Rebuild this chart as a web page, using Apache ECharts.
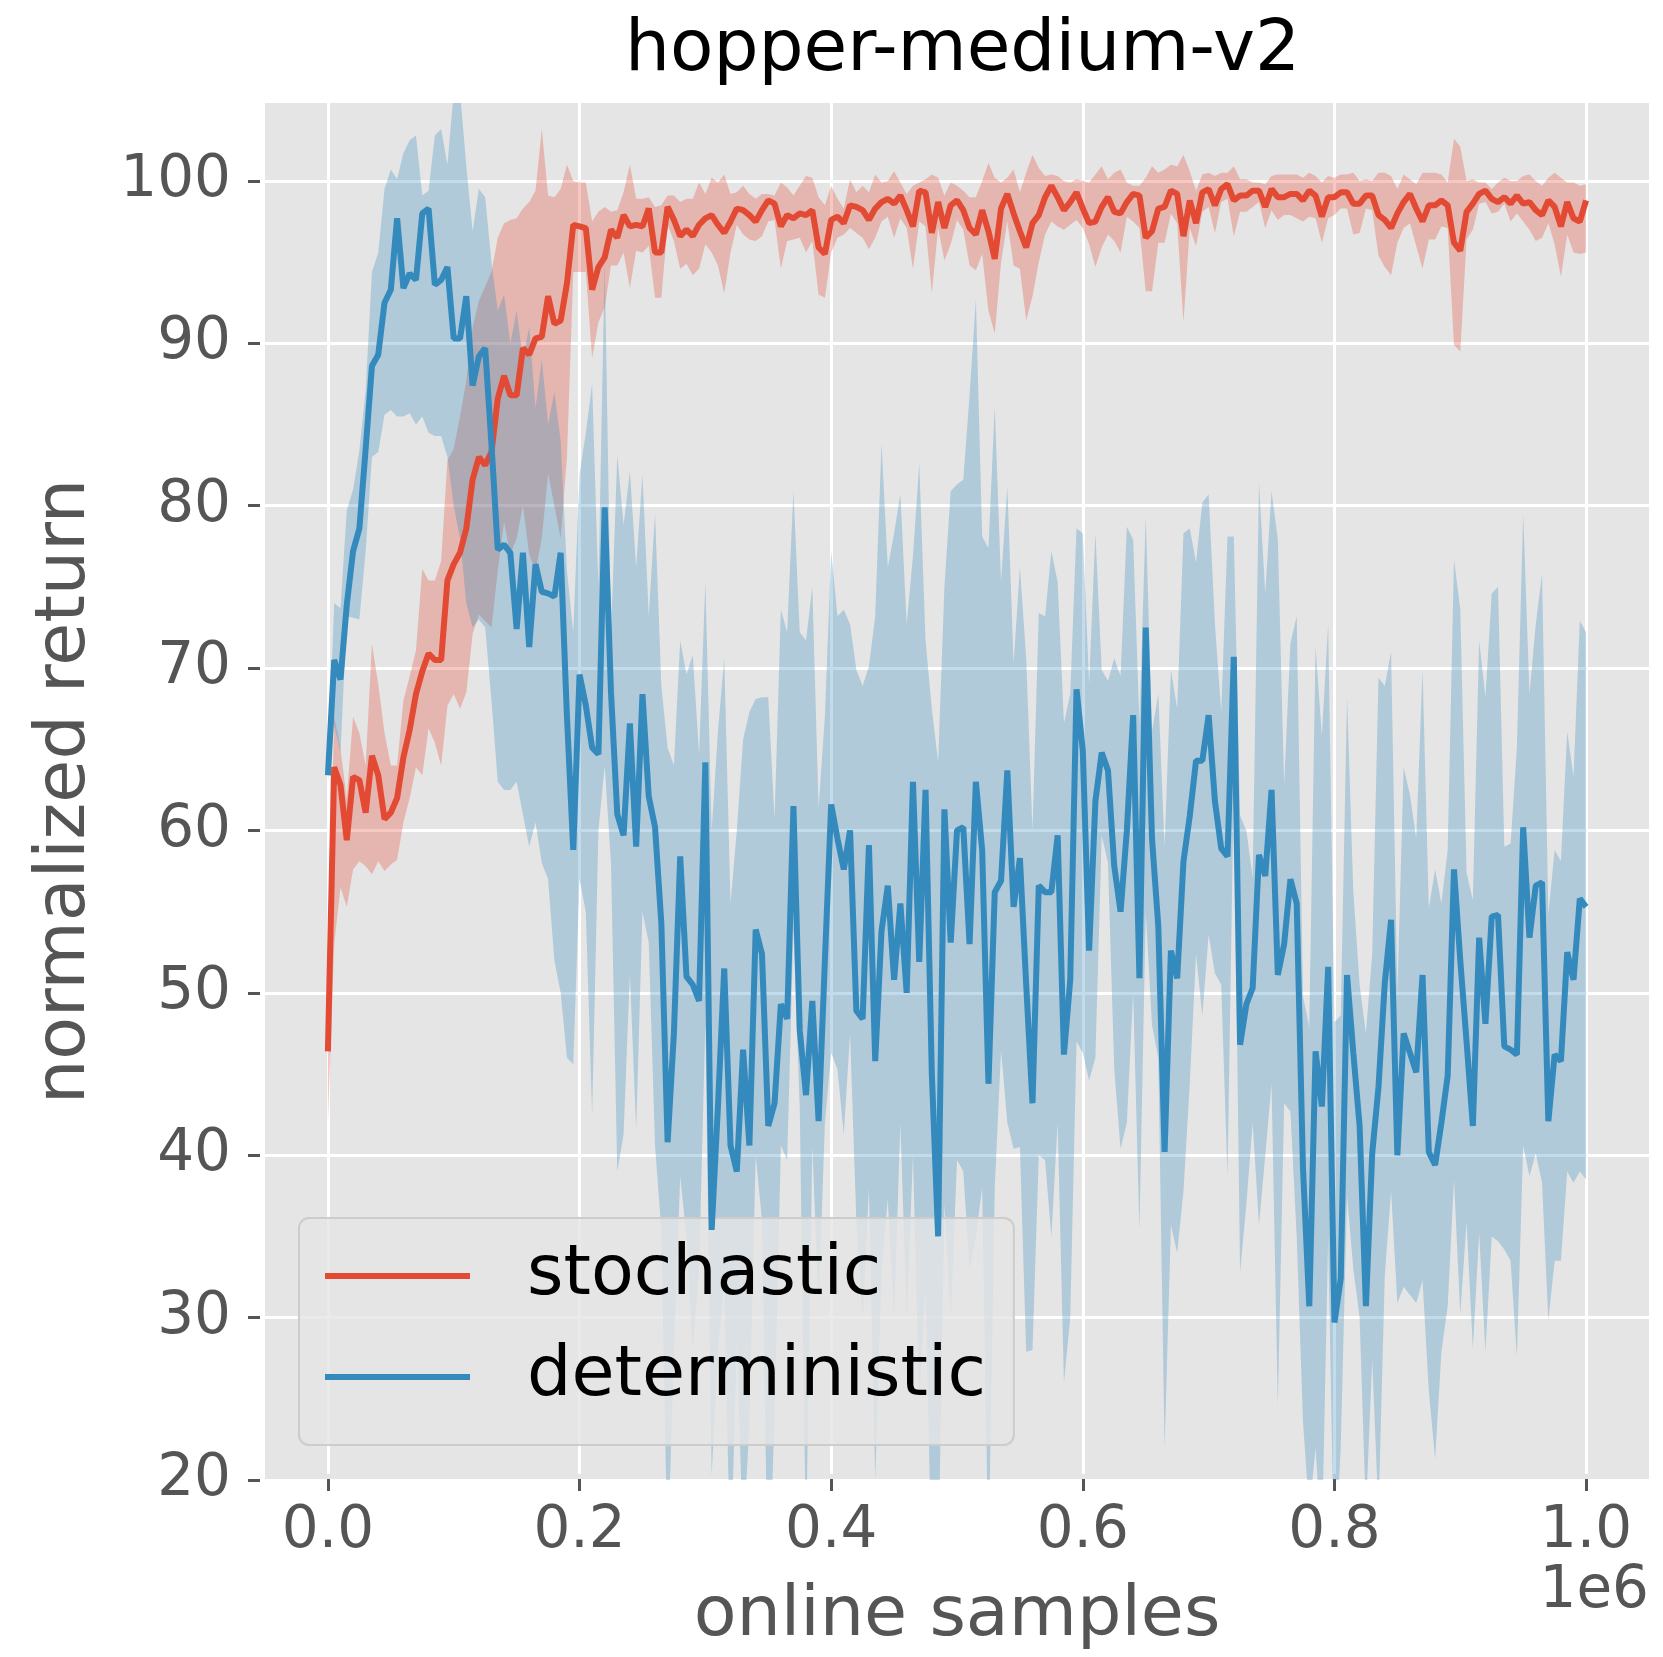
<!DOCTYPE html>
<html><head><meta charset="utf-8">
<script src="https://cdn.jsdelivr.net/npm/echarts@6/dist/echarts.min.js"></script>
<style>html,body{margin:0;padding:0;background:#fff}#chart{width:1663px;height:1657px}</style>
</head><body><div id="chart"></div>
<script>
const STEP = 5000;  // online samples between evaluation points
const seriesNames = ['stochastic', 'deterministic'];
const xTickValues = [0, 200000, 400000, 600000, 800000, 1000000];
const yTickValues = [20, 30, 40, 50, 60, 70, 80, 90, 100];

const redMean = [
46.4,63.9,62.8,59.4,63.3,63.1,61.1,64.6,63.4,60.7,
61.1,62.0,64.5,66.2,68.4,69.8,70.9,70.5,70.5,75.4,
76.4,77.1,78.6,81.6,83.0,82.5,83.3,86.6,88.0,86.8,
86.8,89.7,89.3,90.3,90.4,92.9,91.2,91.4,93.7,97.3,
97.2,97.1,93.3,94.7,95.3,97.0,96.5,97.9,97.2,97.3,
97.2,98.3,95.6,95.6,98.4,97.6,96.6,97.0,96.6,97.3,
97.7,97.9,97.3,96.8,97.5,98.3,98.2,97.9,97.5,98.2,
98.8,98.6,97.2,97.9,97.7,98.0,97.9,98.2,95.9,95.5,
97.6,97.8,97.4,98.5,98.4,98.2,97.6,98.3,98.7,98.9,
98.6,99.1,98.2,97.2,99.4,99.3,96.8,98.7,97.1,98.5,
98.8,98.2,97.1,96.7,98.2,96.9,95.2,98.3,99.2,98.0,
96.9,95.9,97.4,97.9,99.0,99.7,99.0,98.2,98.7,99.3,
98.3,97.4,97.5,98.4,99.0,98.1,98.0,98.7,99.2,99.1,
96.5,96.9,98.3,98.4,99.4,99.2,96.6,98.8,97.4,99.3,
99.5,98.5,99.5,99.8,98.8,99.1,99.1,99.4,99.4,98.4,
99.5,99.0,99.0,99.2,99.2,98.8,99.4,99.1,97.8,99.0,
99.0,99.3,99.3,98.6,98.6,99.1,99.1,97.9,97.6,97.1,
98.0,98.7,99.2,98.3,97.5,98.5,98.5,98.8,98.5,96.2,
95.7,98.1,98.6,99.2,99.4,98.9,98.7,99.0,98.6,99.1,
98.6,98.7,98.2,97.9,98.8,98.4,97.2,98.7,97.7,97.5,
98.8];
const redUpper = [
51.0,67.0,65.0,62.0,67.0,66.0,64.0,71.5,69.0,66.0,
64.0,64.0,68.0,69.5,71.1,76.1,75.4,75.4,76.6,82.8,
83.5,85.5,87.7,91.0,92.6,93.5,94.4,96.5,97.4,97.6,
97.7,98.3,98.7,99.4,103.2,99.1,99.0,99.5,101.0,100.0,
99.9,99.9,97.5,98.1,98.4,98.1,98.2,99.3,101.0,98.9,
98.9,99.0,98.4,98.5,99.1,99.1,98.7,98.9,98.9,99.9,
99.2,100.2,99.9,100.4,99.2,99.3,99.7,99.2,98.9,99.2,
99.2,99.1,99.9,99.6,99.1,99.7,100.3,100.2,99.0,98.5,
99.7,98.9,98.3,100.1,99.3,99.7,99.3,100.4,99.9,100.0,
100.6,99.9,99.2,99.7,99.9,100.1,100.4,100.2,99.1,99.9,
99.7,99.4,99.0,99.0,100.0,101.1,100.2,99.9,100.2,100.7,
99.3,100.5,101.6,100.8,100.3,100.4,100.3,100.0,99.9,100.1,
100.0,99.9,100.4,100.9,100.1,100.5,100.7,99.9,99.7,99.7,
100.2,100.9,100.5,100.7,101.0,100.9,101.6,100.6,99.4,100.4,
100.5,100.3,100.5,100.5,100.9,100.1,100.1,99.9,99.9,99.8,
100.3,100.4,100.4,100.4,100.4,100.2,100.5,100.3,99.9,100.3,
100.2,100.4,100.4,100.5,100.0,100.1,100.0,100.5,100.5,100.3,
99.5,100.4,100.1,99.8,100.5,100.5,100.5,100.4,99.9,102.6,
102.1,100.0,100.1,99.9,99.9,99.5,99.9,100.2,100.0,100.0,
100.3,100.4,100.0,99.7,100.2,100.5,100.2,99.9,99.9,99.7,
99.8];
const redLower = [
42.0,53.0,56.5,55.3,57.6,58.1,57.8,57.3,58.1,57.5,
57.9,58.2,60.5,62.0,63.9,63.4,66.3,65.4,64.0,67.7,
68.4,67.5,68.5,72.1,73.3,72.9,72.5,76.0,79.0,77.0,
78.0,80.0,77.0,76.0,78.0,82.0,80.0,78.0,83.0,94.4,
94.4,94.4,89.1,91.3,92.2,94.8,94.8,95.6,93.4,95.7,
95.6,96.0,92.8,92.8,97.3,96.3,94.6,94.9,94.2,94.6,
96.1,95.6,94.8,93.1,95.6,97.3,96.7,96.4,96.3,96.6,
97.5,97.6,94.6,96.3,96.4,96.5,95.6,96.3,93.0,92.8,
95.6,96.5,96.7,97.1,96.8,96.5,95.8,96.5,97.5,97.8,
96.5,97.7,97.1,94.6,97.5,97.2,93.1,97.1,95.1,96.1,
97.6,97.0,94.8,94.5,95.5,92.0,90.6,95.0,97.5,94.8,
94.6,91.4,92.9,95.0,96.7,97.5,97.2,97.0,97.3,97.6,
97.1,96.1,94.7,95.9,96.7,96.3,95.6,97.8,97.5,97.1,
93.2,93.2,96.2,96.2,98.0,97.4,91.3,97.1,96.0,98.1,
98.4,96.8,98.7,98.9,96.6,98.1,98.1,98.4,98.7,97.1,
98.2,97.6,97.9,97.9,97.7,97.5,97.8,97.7,96.2,97.7,
97.9,98.3,98.3,96.7,96.8,98.3,98.2,95.4,94.7,94.2,
96.2,97.1,97.4,96.0,94.6,96.4,96.4,97.2,97.1,89.9,
89.5,96.4,97.0,98.6,98.7,98.0,98.1,98.6,97.5,98.0,
97.5,97.0,96.3,96.5,97.4,96.1,94.1,96.7,95.6,95.5,
95.6];

const blueMean = [
63.4,70.5,69.3,73.9,77.2,78.6,83.5,88.6,89.3,92.5,
93.3,97.7,93.4,94.3,93.9,98.0,98.3,93.6,93.9,94.7,
90.3,90.3,92.9,87.4,89.2,89.7,83.8,77.3,77.6,77.1,
72.4,77.1,71.3,76.4,74.7,74.6,74.4,77.1,67.0,58.8,
69.6,67.7,65.1,64.7,79.9,68.5,61.0,59.7,66.6,59.0,
68.4,62.1,60.2,54.3,40.8,47.5,58.4,51.0,50.5,49.5,
64.2,35.4,43.0,51.5,40.6,39.0,46.5,40.6,53.9,52.4,
41.8,43.2,49.3,48.4,61.5,47.7,43.7,49.5,42.1,52.0,
61.6,59.5,57.6,60.0,48.9,48.4,59.1,45.8,53.8,56.6,
50.8,55.5,50.0,63.0,51.9,62.5,45.0,35.0,61.3,53.1,
60.0,60.2,53.0,63.0,58.8,44.4,56.2,56.9,63.7,55.3,
58.3,50.5,43.2,56.6,56.2,56.2,59.7,46.2,50.8,68.7,
64.9,52.6,61.8,64.8,63.7,57.8,55.0,60.0,67.1,50.9,
72.5,59.5,54.1,40.2,52.6,50.9,58.1,60.9,64.3,64.3,
67.1,61.8,58.9,58.4,70.7,46.8,49.3,50.3,58.5,57.2,
62.5,51.1,53.0,57.0,55.5,39.2,30.7,46.4,43.0,51.6,
29.7,32.4,51.1,46.3,41.8,30.7,40.1,44.2,50.6,54.5,
40.0,47.5,46.3,45.1,51.1,40.2,39.4,42.0,44.9,57.6,
52.0,47.0,41.8,53.4,48.1,54.7,54.8,46.7,46.5,46.2,
60.2,53.4,56.6,56.8,42.1,46.2,45.8,52.5,50.8,55.8,
55.3];
const blueUpper = [
64.0,74.0,73.7,79.7,81.0,83.4,87.1,94.4,95.6,99.5,
100.7,100.1,101.7,102.5,102.8,99.1,99.4,102.8,103.2,101.0,
105.5,105.5,100.9,96.9,99.5,99.0,95.0,92.0,93.0,90.0,
92.0,89.0,91.0,86.0,89.0,85.0,87.0,84.0,76.0,72.2,
81.9,84.5,87.5,75.0,95.0,72.0,83.1,78.8,82.1,76.2,
81.9,73.2,79.5,68.9,65.1,64.0,71.7,69.6,70.8,64.7,
75.3,60.0,66.1,70.6,55.5,60.0,65.6,67.3,68.1,68.2,
68.2,60.7,73.6,72.2,80.9,72.2,71.7,75.0,61.4,67.0,
77.2,73.2,73.6,72.7,69.9,68.9,70.1,73.2,83.8,76.2,
78.3,80.7,72.7,76.9,82.6,71.7,67.5,64.2,75.0,80.9,
81.3,81.6,86.8,92.7,78.1,77.4,86.1,75.3,81.2,70.3,
76.2,70.6,60.0,73.4,73.2,77.2,75.3,66.6,68.4,78.6,
78.3,69.0,78.3,69.9,69.2,70.6,69.5,78.7,77.9,66.6,
79.3,66.1,68.4,59.0,69.9,67.5,78.3,78.6,76.5,80.2,
80.7,72.7,67.3,78.1,78.1,60.9,60.0,57.1,81.4,74.6,
80.9,77.9,62.8,71.5,73.2,49.8,47.9,71.3,65.8,72.7,
48.2,48.6,68.2,56.2,50.5,47.5,52.4,69.4,68.9,71.0,
50.0,63.9,62.2,59.5,69.9,55.2,57.6,55.5,58.8,76.7,
73.6,57.4,55.7,71.7,68.2,74.6,75.0,59.0,59.2,65.1,
79.5,68.4,72.7,75.8,54.8,58.8,58.1,66.1,63.3,72.9,
72.2];
const blueLower = [
63.0,66.5,64.8,73.2,73.1,73.0,77.2,83.0,83.3,85.6,
85.9,85.5,85.5,85.7,85.0,85.5,84.5,84.3,84.3,83.0,
80.0,78.0,74.0,72.5,73.0,72.5,68.0,63.0,62.5,62.5,
63.0,61.0,59.0,60.5,58.0,57.0,52.0,50.0,46.0,45.6,
57.0,55.0,42.5,60.0,64.0,58.0,39.0,41.3,51.2,41.6,
55.0,53.1,40.6,35.4,15.0,28.0,38.7,35.0,28.0,33.0,
48.2,20.3,28.0,32.1,14.0,28.8,16.0,23.5,40.0,36.0,
12.0,24.0,40.6,39.7,53.8,43.0,16.0,40.6,30.8,42.0,
46.3,45.3,41.3,47.5,36.0,30.0,38.0,20.0,33.0,37.3,
30.0,42.0,30.0,40.0,25.0,32.0,14.0,14.0,37.0,30.0,
39.7,39.0,33.0,35.0,38.0,15.0,38.0,46.5,42.0,40.4,
40.5,27.9,28.0,40.0,39.7,35.0,42.0,26.0,30.0,47.0,
46.3,44.6,46.0,59.7,58.0,45.3,40.4,42.0,50.0,35.4,
55.0,48.0,46.0,22.0,35.7,34.0,37.8,44.4,52.4,48.6,
53.6,51.2,50.5,38.7,63.0,32.8,37.0,42.0,35.7,40.0,
44.4,24.6,43.2,42.7,35.0,23.6,18.0,22.0,16.0,35.0,
14.0,22.0,37.5,33.0,30.0,18.0,27.4,18.0,32.6,37.8,
30.9,31.9,31.4,30.9,32.3,25.5,21.3,27.9,30.7,38.5,
30.2,35.9,28.1,35.2,27.9,35.0,34.7,34.2,33.5,27.6,
40.6,38.7,40.1,38.3,29.8,33.5,33.5,39.0,38.3,39.0,
38.5];

const RED = '#E24A33', BLUE = '#348ABD';
const FONT = '"DejaVu Sans", sans-serif';

function pairs(vals) { return vals.map((v, i) => [i * STEP, v]); }

// shaded band between lower and upper curves, drawn through the axis scales
function bandSeries(id, up, lo, fill) {
  return {
    id: id, name: id, type: 'custom', xAxisIndex: 0, yAxisIndex: 0, silent: true, clip: true, z: 1,
    data: up.map((v, i) => [i * STEP, lo[i], v]),
    encode: { x: 0, y: [1, 2] },
    renderItem: function (params, api) {
      if (params.dataIndex !== 0) return null;
      const pts = [];
      for (let i = 0; i < up.length; i++) pts.push(api.coord([i * STEP, up[i]]));
      for (let i = lo.length - 1; i >= 0; i--) pts.push(api.coord([i * STEP, lo[i]]));
      return { type: 'polygon', shape: { points: pts }, style: { fill: fill, stroke: null } };
    }
  };
}

const tickStyle = { color: '#555555', width: 3, type: [0, 5, 12, 100] };

const chart = echarts.init(document.getElementById('chart'), null, { renderer: 'canvas' });
chart.setOption({
  animation: false,
  backgroundColor: '#ffffff',
  textStyle: { fontFamily: FONT },
  title: {
    text: 'hopper-medium-v2', left: 625, top: 16, padding: 0,
    textStyle: { fontSize: 71, fontWeight: 'normal', color: '#000000', fontFamily: FONT }
  },
  grid: [
    { left: 265, top: 103, width: 1384, height: 1377, show: true, backgroundColor: '#E5E5E5', borderWidth: 0, containLabel: false },
    { left: 327.91, top: 103, width: 1258.18, height: 1377, show: false, containLabel: false }
  ],
  xAxis: [
    { gridIndex: 0, type: 'value', min: -50000, max: 1050000, show: false, axisLine: { onZero: false } },
    { gridIndex: 1, type: 'value', min: 0, max: 1000000, interval: 200000,
      axisLine: { show: false, onZero: false },
      axisTick: { show: true, length: 17, lineStyle: tickStyle, customValues: xTickValues },
      axisLabel: { show: true, margin: 29, fontSize: 58, color: '#555555', fontFamily: FONT,
        customValues: xTickValues, formatter: v => (v / 1e6).toFixed(1) },
      splitLine: { show: true, lineStyle: { color: '#ffffff', width: 3 } },
      name: 'online samples', nameLocation: 'middle', nameGap: 108,
      nameTextStyle: { fontSize: 70, color: '#555555', fontFamily: FONT } }
  ],
  yAxis: [
    { gridIndex: 0, type: 'value', min: 20, max: 104.8, interval: 10,
      axisLine: { show: false, onZero: false },
      axisTick: { show: true, length: 17, lineStyle: tickStyle, customValues: yTickValues },
      axisLabel: { show: true, margin: 34, fontSize: 58, color: '#555555', fontFamily: FONT,
        customValues: yTickValues, formatter: v => String(v) },
      splitLine: { show: true, lineStyle: { color: '#ffffff', width: 3 } },
      name: 'normalized return', nameLocation: 'middle', nameGap: 164,
      nameTextStyle: { fontSize: 70, color: '#555555', fontFamily: FONT } },
    { gridIndex: 1, type: 'value', min: 20, max: 104.8, show: false, axisLine: { onZero: false } }
  ],
  legend: {
    data: seriesNames, orient: 'vertical', left: 299, top: 1218,
    padding: [23, 28, 33, 26], itemWidth: 145, itemHeight: 6, itemGap: 31, icon: 'rect',
    selectedMode: false,
    backgroundColor: 'rgba(229,229,229,0.8)', borderColor: '#cccccc', borderWidth: 2, borderRadius: 10,
    textStyle: { fontSize: 70, color: '#000000', fontFamily: FONT, lineHeight: 70, padding: [0, 0, 0, 52] }
  },
  graphic: [
    { type: 'text', right: 14, top: 1563, style: { text: '1e6', font: '58px ' + FONT, fill: '#555555' } }
  ],
  series: [
    bandSeries('red-band', redUpper, redLower, 'rgba(226,74,51,0.3)'),
    bandSeries('blue-band', blueUpper, blueLower, 'rgba(52,138,189,0.3)'),
    { name: seriesNames[0], type: 'line', xAxisIndex: 0, yAxisIndex: 0, data: pairs(redMean),
      color: RED, symbol: 'none', lineStyle: { color: RED, width: 6 }, z: 3 },
    { name: seriesNames[1], type: 'line', xAxisIndex: 0, yAxisIndex: 0, data: pairs(blueMean),
      color: BLUE, symbol: 'none', lineStyle: { color: BLUE, width: 6 }, z: 4 }
  ]
});
</script></body></html>
